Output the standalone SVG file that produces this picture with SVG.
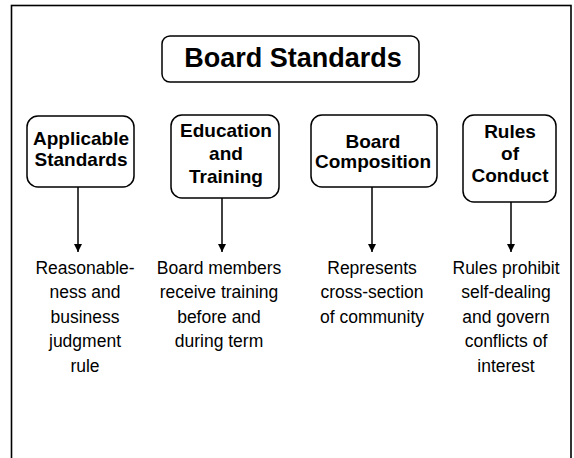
<svg xmlns="http://www.w3.org/2000/svg" width="574" height="458" viewBox="0 0 574 458">
<style>
.frame{fill:none;stroke:#000;stroke-width:1.6}
.box{fill:#fff;stroke:#000;stroke-width:1.5}
.t{font-family:"Liberation Sans",Arial,sans-serif;fill:#000;text-anchor:middle}
.title{font-size:27px;font-weight:bold}
.h{font-size:19px;font-weight:bold}
.b{font-size:17.5px}
.conn line{stroke:#000;stroke-width:1.5}
</style>
<defs>
<marker id="arr" viewBox="0 0 10 10" refX="10" refY="5" markerWidth="9" markerHeight="8" markerUnits="userSpaceOnUse" orient="auto">
<path d="M0,0 L10,5 L0,10 Z" fill="#000"/>
</marker>
</defs>
<rect width="574" height="458" fill="#fff"/>
<rect class="frame" x="11.5" y="5.5" width="559.5" height="470"/>

<g id="title">
<rect class="box" x="162" y="36" width="257" height="46" rx="8"/>
<text class="t title" x="293" y="67">Board Standards</text>
</g>

<g id="applicable">
<rect class="box" x="27" y="116" width="107" height="71" rx="11"/>
<text class="t h" x="81" y="145">Applicable</text>
<text class="t h" x="81" y="166">Standards</text>
</g>

<g id="education">
<rect class="box" x="171" y="115" width="108" height="83" rx="11"/>
<text class="t h" x="226" y="137">Education</text>
<text class="t h" x="226" y="160">and</text>
<text class="t h" x="226" y="183">Training</text>
</g>

<g id="composition">
<rect class="box" x="311" y="115" width="126" height="72" rx="11"/>
<text class="t h" x="373" y="148">Board</text>
<text class="t h" x="373" y="168">Composition</text>
</g>

<g id="conduct">
<rect class="box" x="463" y="115" width="93" height="87" rx="11"/>
<text class="t h" x="510" y="138">Rules</text>
<text class="t h" x="510" y="160">of</text>
<text class="t h" x="510" y="182">Conduct</text>
</g>

<g class="conn" id="connectors">
<line x1="78" y1="187" x2="78" y2="252" marker-end="url(#arr)"/>
<line x1="222" y1="198" x2="222" y2="252" marker-end="url(#arr)"/>
<line x1="372" y1="187" x2="372" y2="252" marker-end="url(#arr)"/>
<line x1="511" y1="202" x2="511" y2="252" marker-end="url(#arr)"/>
</g>

<g id="desc1">
<text class="t b" x="85" y="274">Reasonable-</text>
<text class="t b" x="85" y="298">ness and</text>
<text class="t b" x="85" y="323">business</text>
<text class="t b" x="85" y="347">judgment</text>
<text class="t b" x="85" y="372">rule</text>
</g>
<g id="desc2">
<text class="t b" x="219" y="274">Board members</text>
<text class="t b" x="219" y="298">receive training</text>
<text class="t b" x="219" y="323">before and</text>
<text class="t b" x="219" y="347">during term</text>
</g>
<g id="desc3">
<text class="t b" x="372" y="274">Represents</text>
<text class="t b" x="372" y="298">cross-section</text>
<text class="t b" x="372" y="323">of community</text>
</g>
<g id="desc4">
<text class="t b" x="506" y="274">Rules prohibit</text>
<text class="t b" x="506" y="298">self-dealing</text>
<text class="t b" x="506" y="323">and govern</text>
<text class="t b" x="506" y="347">conflicts of</text>
<text class="t b" x="506" y="372">interest</text>
</g>
</svg>
